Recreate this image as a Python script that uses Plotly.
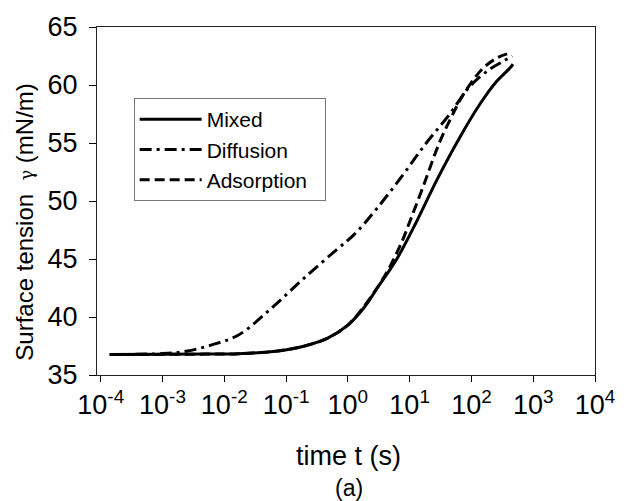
import plotly.graph_objects as go

# ---- data ----
t_mixed = [1.4e-4, 1e-3, 5e-3, 1.7e-2, 7.4e-2, 0.2, 0.48, 1.0, 1.82, 3.0, 6.2, 12.6, 27.5, 65, 135, 245, 427, 470]
g_mixed = [36.76, 36.78, 36.8, 36.84, 37.07, 37.5, 38.2, 39.3, 40.8, 42.5, 45.0, 48.1, 51.8, 55.5, 58.3, 60.2, 61.5, 61.8]

t_diff = [1.4e-4, 1e-3, 2.4e-3, 6.3e-3, 1.7e-2, 5.9e-2, 0.2, 0.69, 1.26, 3.0, 7.9, 18.6, 44.7, 91.2, 191, 316, 457]
g_diff = [36.76, 36.85, 37.05, 37.6, 38.45, 40.8, 43.4, 45.9, 47.1, 49.4, 52.3, 55.0, 57.5, 59.8, 61.3, 62.0, 62.5]

t_ads = [1.4e-4, 1e-3, 5e-3, 1.7e-2, 7.4e-2, 0.2, 0.48, 1.0, 1.82, 4.0, 7.1, 10.7, 17.8, 30.2, 50.1, 72.4, 151, 275, 457]
g_ads = [36.76, 36.78, 36.8, 36.84, 37.07, 37.5, 38.2, 39.3, 40.9, 43.6, 46.2, 48.6, 51.7, 55.0, 57.5, 59.1, 61.4, 62.4, 62.8]

x_tickvals = [1e-4, 1e-3, 1e-2, 1e-1, 1e0, 1e1, 1e2, 1e3, 1e4]
x_ticktext = ["10<sup>-4</sup>", "10<sup>-3</sup>", "10<sup>-2</sup>", "10<sup>-1</sup>", "10<sup>0</sup>",
              "10<sup>1</sup>", "10<sup>2</sup>", "10<sup>3</sup>", "10<sup>4</sup>"]
y_tickvals = [35, 40, 45, 50, 55, 60, 65]

FONT = "Liberation Sans, Arial, sans-serif"

fig = go.Figure()
fig.add_trace(go.Scatter(x=t_mixed, y=g_mixed, mode="lines", name="Mixed",
                         line=dict(color="black", width=3, shape="spline", smoothing=1.0)))
fig.add_trace(go.Scatter(x=t_diff, y=g_diff, mode="lines", name="Diffusion",
                         line=dict(color="black", width=3, dash="12px,5px,3px,5px", shape="spline", smoothing=1.0)))
fig.add_trace(go.Scatter(x=t_ads, y=g_ads, mode="lines", name="Adsorption\u00a0\u00a0",
                         line=dict(color="black", width=3, dash="10px,5px", shape="spline", smoothing=1.0)))

fig.update_layout(
    width=627, height=501,
    margin=dict(l=97, r=27, t=22, b=126),
    paper_bgcolor="white", plot_bgcolor="white",
    font=dict(family=FONT, color="black"),
    showlegend=True,
    legend=dict(x=0.0736, y=0.796, xanchor="left", yanchor="top",
                bgcolor="white", bordercolor="#777", borderwidth=1,
                font=dict(size=21, family=FONT), tracegroupgap=0,
                itemwidth=62),
    xaxis=dict(type="log", range=[-4.06, 4.0], tickvals=x_tickvals, ticktext=x_ticktext,
               ticks="outside", ticklen=6, tickcolor="black", tickwidth=1,
               showline=True, linecolor="#222", linewidth=1, mirror=True,
               showgrid=False, zeroline=False, tickfont=dict(size=27, family=FONT)),
    yaxis=dict(range=[35, 65], tickvals=y_tickvals,
               ticks="outside", ticklen=7, tickcolor="black", tickwidth=1,
               ticklabelstandoff=6,
               showline=True, linecolor="#222", linewidth=1, mirror=True,
               showgrid=False, zeroline=False, tickfont=dict(size=27, family=FONT)),
    annotations=[
        dict(text="Surface tension\u00a0 <span style='font-family:DejaVu Serif;font-size:18px'>\u03b3</span> (mN/m)",
             xref="paper", yref="paper", x=-0.145, y=0.44, textangle=-90,
             showarrow=False, font=dict(size=24, family=FONT), xanchor="center", yanchor="middle"),
        dict(text="time t (s)", xref="paper", yref="paper", x=0.505, y=-0.232,
             showarrow=False, font=dict(size=27, family=FONT), xanchor="center", yanchor="middle"),
        dict(text="(a)", xref="paper", yref="paper", x=0.507, y=-0.326,
             showarrow=False, font=dict(size=23, family=FONT), xanchor="center", yanchor="middle"),
    ],
)

fig.write_html("out.html")
